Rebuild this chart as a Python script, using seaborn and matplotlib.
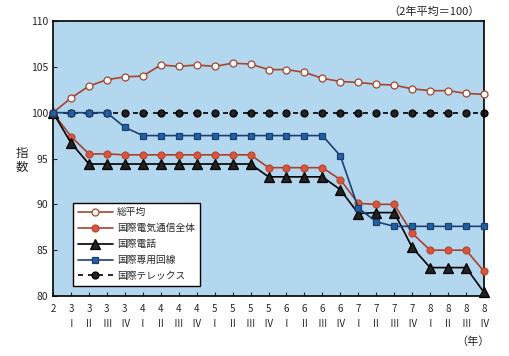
import numpy as np
import pandas as pd
import matplotlib
matplotlib.use("Agg")
import matplotlib.pyplot as plt
import seaborn as sns

# quarters: 2 (base year), then 3-I .. 8-IV
years = ["2"] + [str(y) for y in range(3, 9) for _ in range(4)]
quarters = [""] + ["Ⅰ", "Ⅱ", "Ⅲ", "Ⅳ"] * 6
tick_labels = [y if q == "" else y + "\n" + q for y, q in zip(years, quarters)]

total_avg = [100, 101.6, 102.9, 103.6, 103.9, 104.0, 105.2, 105.05, 105.2, 105.05,
             105.4, 105.3, 104.7, 104.7, 104.4, 103.75, 103.4, 103.3, 103.1, 103.0,
             102.6, 102.4, 102.4, 102.1, 102.0]
intl_telecom = [100, 97.4, 95.5, 95.5, 95.4, 95.4, 95.4, 95.4, 95.4, 95.4,
                95.4, 95.4, 94.0, 94.0, 94.0, 94.0, 92.7, 90.1, 90.0, 90.0,
                86.85, 85.0, 85.0, 85.0, 82.7]
intl_phone = [100, 96.7, 94.4, 94.4, 94.4, 94.4, 94.4, 94.4, 94.4, 94.4,
              94.4, 94.4, 93.0, 93.0, 93.0, 93.0, 91.6, 89.0, 89.1, 89.1,
              85.3, 83.1, 83.1, 83.1, 80.4]
leased_line = [100, 100, 100, 100, 98.4, 97.5, 97.5, 97.5, 97.5, 97.5,
               97.5, 97.5, 97.5, 97.5, 97.5, 97.5, 95.3, 89.6, 88.1, 87.6,
               87.6, 87.6, 87.6, 87.6, 87.6]
telex = [100] * 25

series_names = ["総平均", "国際電気通信全体", "国際電話", "国際専用回線", "国際テレックス"]
series_vals = [total_avg, intl_telecom, intl_phone, leased_line, telex]

sns.set_style("ticks")
plt.rcParams["font.family"] = ["Noto Sans CJK JP", "DejaVu Sans"]

x = np.arange(len(tick_labels))
df = pd.DataFrame({"x": np.tile(x, len(series_names)),
                   "value": np.concatenate(series_vals),
                   "series": np.repeat(series_names, len(x))})

styles = {
    "総平均": dict(color="#a5452c", marker="o", mfc="white", mec="#a5452c", ms=5, ls="-", z=4),
    "国際電気通信全体": dict(color="#a8402c", marker="o", mfc="#d9553f", mec="#b84a30", ms=5, ls="-", z=3),
    "国際電話": dict(color="black", marker="^", mfc="#222222", mec="black", ms=6.5, ls="-", z=3),
    "国際専用回線": dict(color="#1b3f73", marker="s", mfc="#2162a3", mec="#1b3f73", ms=5, ls="-", z=5),
    "国際テレックス": dict(color="black", marker="o", mfc="#222222", mec="black", ms=5, ls=(0, (3, 3)), z=2),
}

fig = plt.figure(figsize=(5.1, 3.56), dpi=100)
ax = fig.add_axes([0.104, 0.1685, 0.845, 0.7725])
ax.set_facecolor("#b4d7f0")

for name in series_names:
    st = styles[name]
    sns.lineplot(data=df[df["series"] == name], x="x", y="value", ax=ax,
                 color=st["color"], marker=st["marker"], markersize=st["ms"],
                 markerfacecolor=st["mfc"], markeredgecolor=st["mec"], markeredgewidth=0.9,
                 linestyle=st["ls"], linewidth=1.2, label=name, zorder=st["z"],
                 clip_on=False)

ax.set_xlim(0, 24)
ax.set_ylim(80, 110)
ax.set_yticks(range(80, 111, 5))
ax.set_xticks(x)
ax.set_xticklabels(tick_labels, fontsize=7, linespacing=1.6)
ax.tick_params(axis="x", direction="in", length=3, pad=6)
ax.tick_params(axis="y", direction="in", length=3, labelsize=7.5)
ax.set_xlabel("")
ax.set_ylabel("")
for sp in ax.spines.values():
    sp.set_visible(True)
    sp.set_color("black")
    sp.set_linewidth(1.2)

leg = ax.legend(loc="lower left", bbox_to_anchor=(0.035, 0.02), fontsize=7,
                frameon=True, fancybox=False, edgecolor="black", framealpha=1,
                handlelength=3.6, handletextpad=0.4, labelspacing=0.6, borderpad=0.5)
leg.get_frame().set_linewidth(1.0)

fig.text(22 / 510, 1 - 160 / 356, "指\n数", fontsize=9, ha="center", va="center",
         linespacing=1.1)
fig.text(480 / 510, 1 - 12 / 356, "（2年平均＝100）", fontsize=8, ha="right", va="center")
fig.text(490 / 510, 1 - 342 / 356, "（年）", fontsize=8, ha="right", va="center")

fig.savefig("out.png", dpi=100, facecolor="white")
